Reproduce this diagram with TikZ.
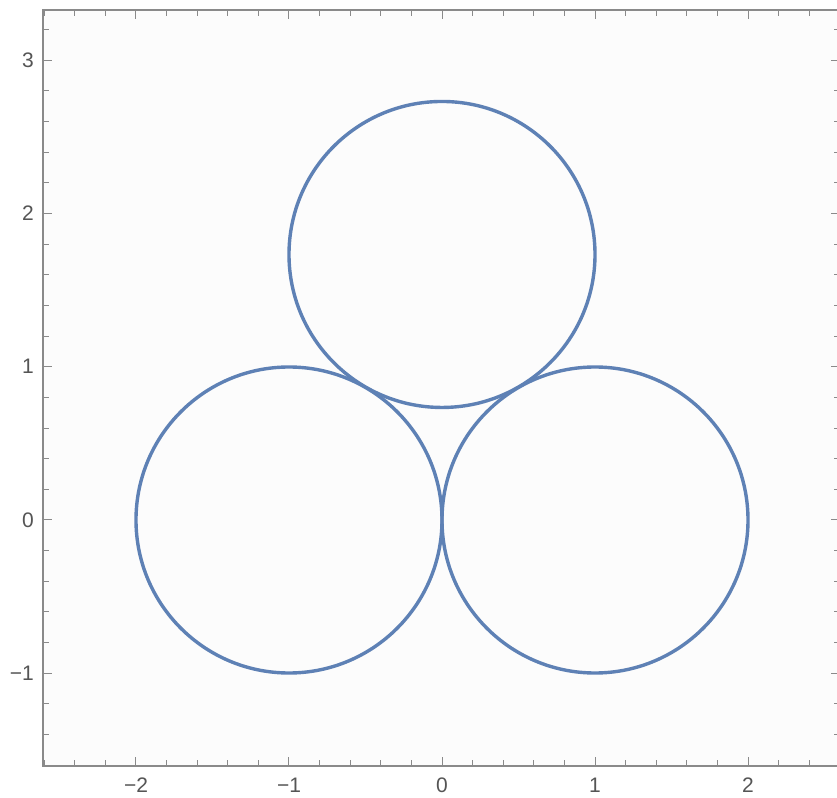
\documentclass[tikz,border=0pt]{standalone}
\usepackage{fontspec}
\setmainfont{Liberation Sans}
\definecolor{mblue}{rgb}{0.368417,0.506779,0.709798}
\definecolor{framegray}{HTML}{8A8A8A}
\definecolor{labelgray}{HTML}{555555}
\definecolor{bggray}{HTML}{FCFCFC}
\begin{document}
\begin{tikzpicture}[x=153pt,y=153.3pt,
  circ/.style={draw=mblue,line width=3.4pt},
  frameline/.style={draw=framegray,line width=1.4pt},
  tickline/.style={draw=framegray,line width=1pt},
  lab/.style={text=labelgray,font=\fontsize{21}{22}\selectfont,inner sep=0pt}]
\useasboundingbox (-442pt,-277pt) rectangle (395pt,520pt);
\fill[white] (-442pt,-277pt) rectangle (395pt,520pt);
\begin{scope}
\clip (-442pt,-277pt) rectangle (395pt,520pt);
\fill[bggray] (-2.608,-1.605) rectangle (2.6,3.327);
% frame
\coordinate (bl) at (-2.608,-1.605);
\coordinate (tr) at (2.6,3.327);
\draw[frameline] (bl) rectangle (tr);
% x ticks
\foreach \i in {-13,...,13}{
  \pgfmathsetmacro{\xx}{\i/5}
  \pgfmathtruncatemacro{\maj}{mod(abs(\i),5)==0 ? 1 : 0}
  \ifnum\maj=1
    \draw[tickline] (\xx,-1.605) -- ++(0,9pt);
    \draw[tickline] (\xx,3.327) -- ++(0,-9pt);
  \else
    \draw[tickline] (\xx,-1.605) -- ++(0,6pt);
    \draw[tickline] (\xx,3.327) -- ++(0,-6pt);
  \fi
}
% y ticks
\foreach \i in {-8,...,16}{
  \pgfmathsetmacro{\yy}{\i/5}
  \pgfmathtruncatemacro{\maj}{mod(abs(\i),5)==0 ? 1 : 0}
  \ifnum\maj=1
    \draw[tickline] (-2.608,\yy) -- ++(9pt,0);
    \draw[tickline] (2.6,\yy) -- ++(-9pt,0);
  \else
    \draw[tickline] (-2.608,\yy) -- ++(6pt,0);
    \draw[tickline] (2.6,\yy) -- ++(-6pt,0);
  \fi
}
% circles
\node[circ,circle,minimum size=306pt,inner sep=0pt] (c1) at (-1,0) {};
\node[circ,circle,minimum size=306pt,inner sep=0pt] (c2) at (1,0) {};
\node[circ,circle,minimum size=306pt,inner sep=0pt] (c3) at (0,1.7320508) {};
\end{scope}
% x labels
\foreach \v/\t in {-2/{−2},-1/{−1},0/0,1/1,2/2}{
  \node[lab,anchor=base,yshift=-26pt] (xl\v) at (\v,-1.605) {\t};
}
% y labels
\foreach \v/\t in {-1/{−1},0/0,1/1,2/2,3/3}{
  \node[lab,anchor=east,xshift=-9pt] (yl\v) at (-2.608,\v) {\t};
}
\end{tikzpicture}
\end{document}
